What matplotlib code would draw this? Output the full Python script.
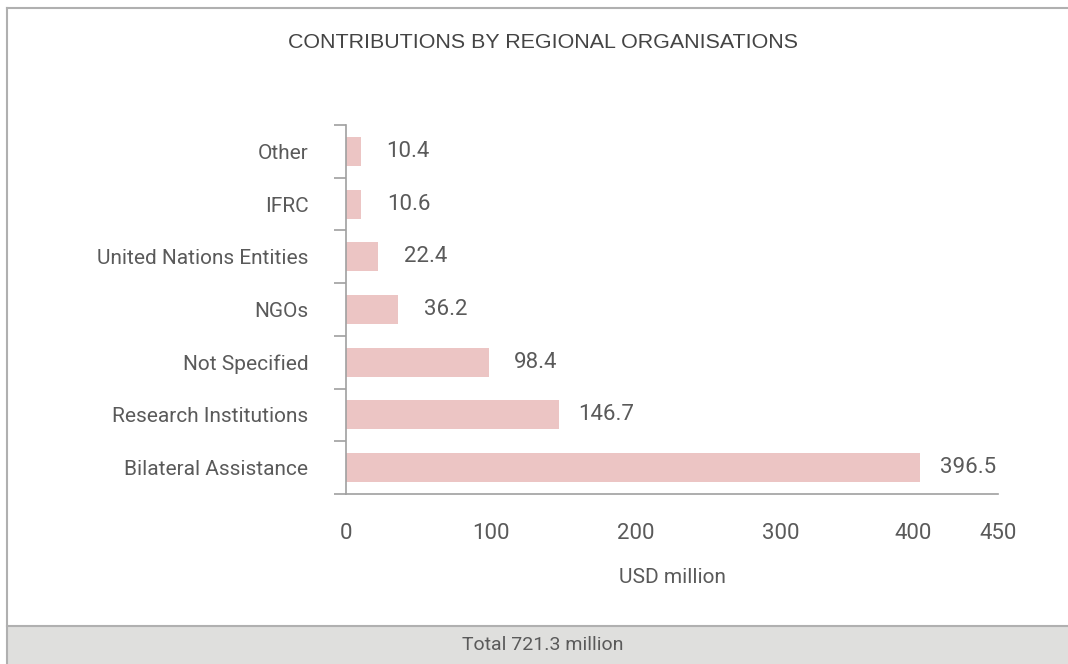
import numpy as np
import matplotlib.pyplot as plt
import matplotlib.transforms as mtransforms
from matplotlib.patches import Rectangle
from matplotlib.lines import Line2D

# data, bottom to top
categories = ['Bilateral Assistance', 'Research Institutions', 'Not Specified',
              'NGOs', 'United Nations Entities', 'IFRC', 'Other']
values = [396.5, 146.7, 98.4, 36.2, 22.4, 10.6, 10.4]
value_labels = ['396.5', '146.7', '98.4', '36.2', '22.4', '10.6', '10.4']
xticks = [0, 100, 200, 300, 400, 450]
title = 'CONTRIBUTIONS BY REGIONAL ORGANISATIONS'
footer = 'Total 721.3 million'

plt.rcParams['font.family'] = ['Roboto', 'DejaVu Sans']
txt = '#5a5a5a'
axc = '#a0a0a0'
barc = '#ecc5c4'

fig = plt.figure(figsize=(10.68, 6.64), dpi=100)
W, H = 1068, 664

# outer frame and footer band
fig.patches.append(Rectangle((7 / W, 0), 1, 38 / H, transform=fig.transFigure,
                             facecolor='#dfdfdd', edgecolor='none', zorder=-1))
fig.lines.append(Line2D([7 / W, 1], [38 / H, 38 / H], transform=fig.transFigure, color='#b0b0b0', lw=1.5))
fig.lines.append(Line2D([7 / W, 1], [1 - 8 / H, 1 - 8 / H], transform=fig.transFigure, color='#b0b0b0', lw=1.5))
fig.lines.append(Line2D([7 / W, 7 / W], [0, 1 - 8 / H], transform=fig.transFigure, color='#b0b0b0', lw=1.5))

ax = fig.add_axes([346 / W, 1 - 494 / H, 652 / W, 369 / H])
y = np.arange(len(categories))
ax.barh(y, values, height=0.55, color=barc)
for yi, v, lab in zip(y, values, value_labels):
    ax.annotate(lab, (v, yi), xytext=(34, 0), textcoords='offset points',
                ha='center', va='center', fontsize=16, color=txt)

ax.set_xlim(0, 450)
ax.set_ylim(-0.5, len(categories) - 0.5)
ax.set_yticks(y)
ax.set_yticklabels(categories)
ax.set_yticks(np.arange(len(categories) + 1) - 0.5, minor=True)
ax.set_xticks(xticks)
ax.set_xticks([450], minor=True)

ax.tick_params(axis='y', which='major', length=0, pad=27, labelsize=15, labelcolor=txt)
ax.tick_params(axis='y', which='minor', length=9, width=1.2, color=axc, direction='out')
ax.tick_params(axis='x', which='major', length=0, pad=21, labelsize=16, labelcolor=txt)
ax.tick_params(axis='x', which='minor', length=5, width=1.2, color=axc, direction='in')

# the 400 label sits a little left of its tick in the original
lbl400 = ax.get_xticklabels()[4]
lbl400.set_transform(lbl400.get_transform() + mtransforms.ScaledTranslation(-12 / 100, 0, fig.dpi_scale_trans))

for s in ['top', 'right']:
    ax.spines[s].set_visible(False)
for s in ['left', 'bottom']:
    ax.spines[s].set_color(axc)
    ax.spines[s].set_linewidth(1.2)

ax.set_xlabel('USD million', fontsize=15, color=txt, labelpad=17)

fig.text(543 / W, 1 - 42 / H, title, ha='center', va='center', fontsize=15.4,
         color='#444444', family=['Liberation Sans', 'DejaVu Sans'])
fig.text(543 / W, 19 / H, footer, ha='center', va='center', fontsize=14, color=txt)

fig.savefig('out.png', dpi=100)
